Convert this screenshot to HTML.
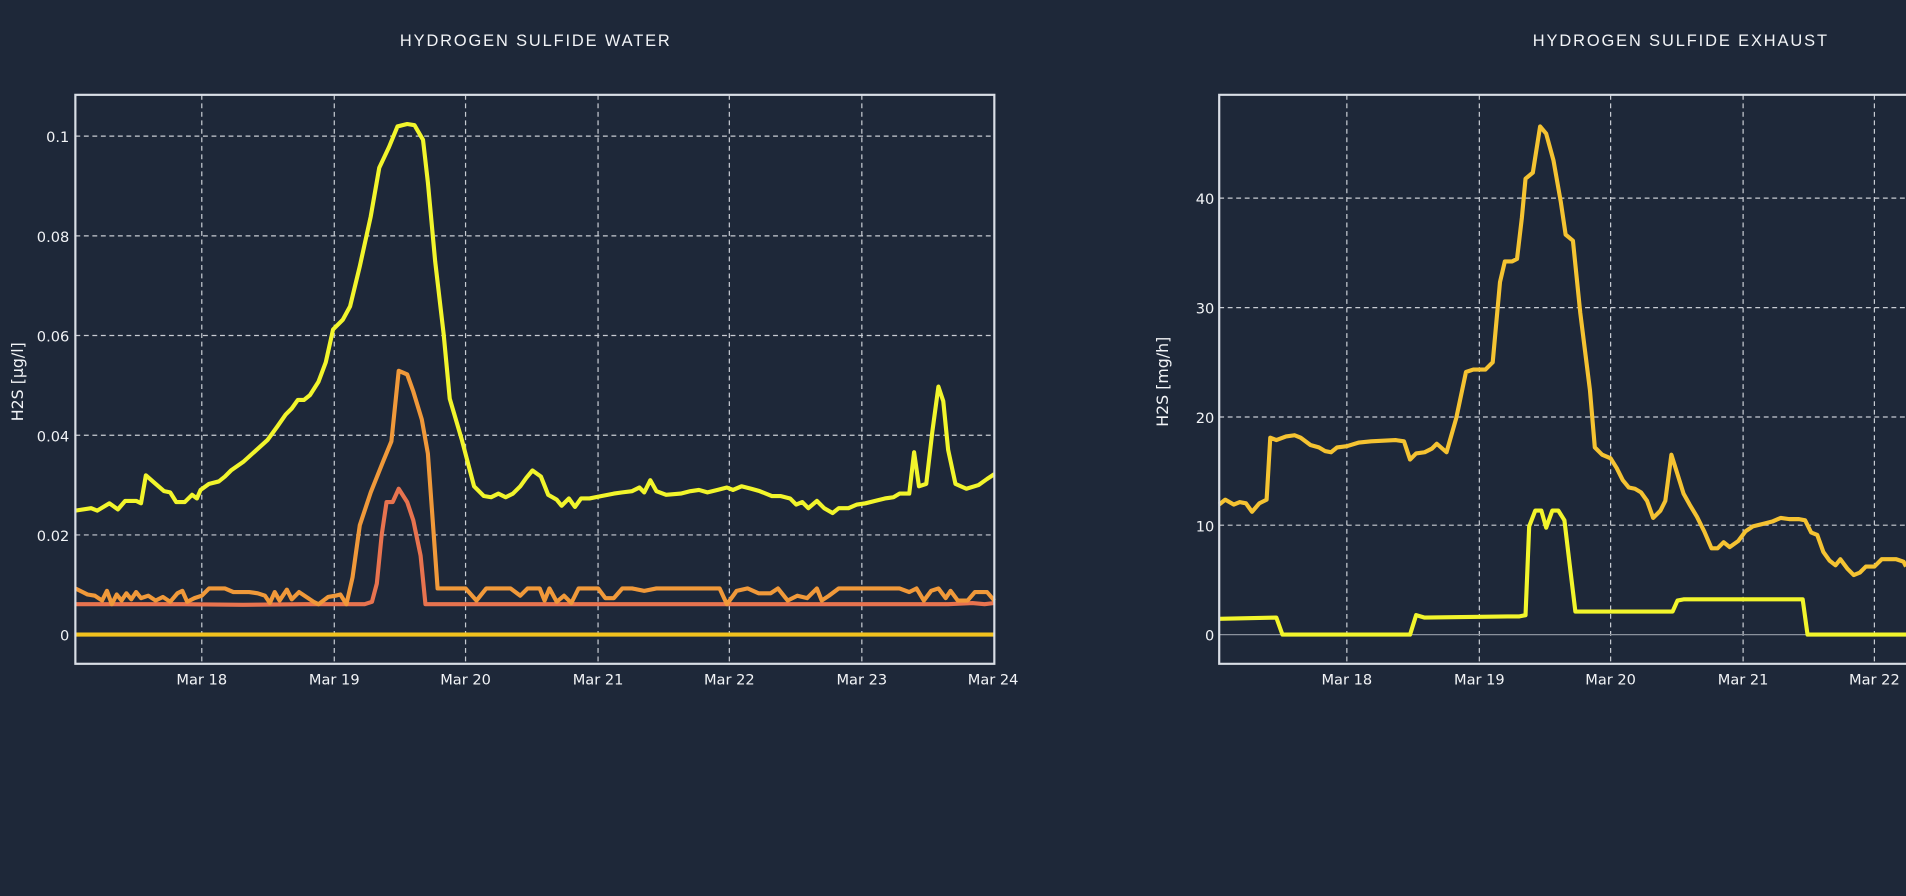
<!DOCTYPE html>
<html><head><meta charset="utf-8"><style>
html,body{margin:0;padding:0;background:#1e2839;}
svg{display:block}
text{font-family:"DejaVu Sans","Liberation Sans",sans-serif;fill:#f2f4f7;}
</style></head><body>
<svg width="1906" height="896" viewBox="0 0 1568 737" preserveAspectRatio="none" xmlns="http://www.w3.org/2000/svg">
<rect width="1568" height="737" fill="#1e2839"/>
<!-- LEFT CHART -->
<text x="440" y="38" font-size="13.5" text-anchor="middle" style="font-family:'Liberation Sans',sans-serif" textLength="222">HYDROGEN SULFIDE WATER</text>
<g stroke="#e6e9ee" stroke-width="1" stroke-dasharray="4,3" opacity="0.85">
<line x1="166" y1="78" x2="166" y2="546"/><line x1="275" y1="78" x2="275" y2="546"/>
<line x1="383" y1="78" x2="383" y2="546"/><line x1="492" y1="78" x2="492" y2="546"/>
<line x1="600" y1="78" x2="600" y2="546"/><line x1="709" y1="78" x2="709" y2="546"/>
<line x1="62" y1="112" x2="818" y2="112"/><line x1="62" y1="194" x2="818" y2="194"/>
<line x1="62" y1="276" x2="818" y2="276"/><line x1="62" y1="358" x2="818" y2="358"/>
<line x1="62" y1="440" x2="818" y2="440"/>
</g>
<g font-size="12" text-anchor="end">
<text x="57" y="117">0.1</text><text x="57" y="199">0.08</text><text x="57" y="281">0.06</text>
<text x="57" y="363">0.04</text><text x="57" y="445">0.02</text><text x="57" y="527">0</text>
</g>
<g font-size="12" text-anchor="middle">
<text x="166" y="563">Mar 18</text><text x="275" y="563">Mar 19</text><text x="383" y="563">Mar 20</text>
<text x="492" y="563">Mar 21</text><text x="600" y="563">Mar 22</text><text x="709" y="563">Mar 23</text>
<text x="817" y="563">Mar 24</text>
</g>
<text transform="translate(19,314) rotate(-90)" font-size="13" text-anchor="middle">H2S [µg/l]</text>
<g fill="none" stroke-width="3.4" stroke-linejoin="round">
<line x1="62" y1="522" x2="818" y2="522" stroke="#f2c21e"/>
<polyline stroke="#e8734f" points="62,497 150,497 200,497.5 250,497 300,497 306,495 310,480 314,440 318,413 323,413 328,402 335,413 340,428 346,457 350,497 400,497 500,497 600,497 700,497 780,497 800,496 810,497 818,496"/>
<polyline stroke="#f0993a" points="62,484 68,487 72,489 78,490 84,494 88,486 92,497 96,489 100,494 104,488 108,493 112,487 116,492 122,490 128,494 134,491 140,495 146,488 150,486 154,495 160,492 166,490 172,484 178,484 185,484 192,487 198,487 205,487 212,488 218,490 222,496 226,487 230,494 236,485 240,493 246,487 252,491 258,495 262,497 270,491 276,490 280,489 285,497 290,475 296,432 305,405 315,380 322,363 328,305 335,308 340,322 347,345 352,373 360,484 383,484 392,494 400,484 420,484 428,490 434,484 444,484 448,494 452,484 458,495 464,490 470,496 476,484 492,484 498,492 505,492 512,484 520,484 530,486 540,484 580,484 592,484 598,497 606,486 615,484 624,488 634,488 640,484 648,494 656,490 664,492 672,484 676,494 682,490 690,484 700,484 740,484 748,487 754,484 760,494 766,486 772,484 778,492 782,486 788,494 796,494 802,487 812,487 818,494"/>
<polyline stroke="#f2f52c" points="62,420 75,418 80,420 90,414 97,419 103,412 112,412 116,414 120,391 128,398 135,404 140,405 145,413 152,413 158,407 162,410 165,403 172,398 180,396 185,392 190,387 200,380 210,371 220,362 228,351 235,341 240,336 245,329 250,329 255,325 262,314 268,298 274,271 282,263 288,252 296,219 305,178 312,138 320,121 327,104 335,102 341,103 348,115 352,150 358,215 365,275 370,328 380,362 390,400 398,408 404,409 410,406 416,409 422,406 428,400 433,393 438,387 445,392 451,407 458,411 462,416 468,410 473,417 478,410 485,410 495,408 505,406 512,405 520,404 526,401 530,405 535,395 540,404 548,407 560,406 568,404 575,403 582,405 590,403 598,401 603,403 610,400 618,402 625,404 635,408 642,408 650,410 655,415 660,413 665,418 672,412 678,418 685,422 690,418 698,418 705,415 712,414 720,412 728,410 735,409 740,406 748,406 752,372 756,400 762,398 767,355 772,318 776,330 780,370 786,398 795,402 805,399 812,394 818,390"/>
</g>
<rect x="62" y="78" width="756" height="468" fill="none" stroke="#d9dee6" stroke-width="1.8"/>

<!-- RIGHT CHART -->
<text x="1382" y="38" font-size="13.5" text-anchor="middle" style="font-family:'Liberation Sans',sans-serif" textLength="242">HYDROGEN SULFIDE EXHAUST</text>
<g stroke="#e6e9ee" stroke-width="1" stroke-dasharray="4,3" opacity="0.85">
<line x1="1108" y1="78" x2="1108" y2="546"/><line x1="1217" y1="78" x2="1217" y2="546"/>
<line x1="1325" y1="78" x2="1325" y2="546"/><line x1="1434" y1="78" x2="1434" y2="546"/>
<line x1="1542" y1="78" x2="1542" y2="546"/>
<line x1="1003" y1="163" x2="1568" y2="163"/><line x1="1003" y1="253" x2="1568" y2="253"/>
<line x1="1003" y1="343" x2="1568" y2="343"/><line x1="1003" y1="432" x2="1568" y2="432"/>
</g>
<line x1="1003" y1="522" x2="1568" y2="522" stroke="#8a919c" stroke-width="1"/>
<g font-size="12" text-anchor="end">
<text x="999" y="168">40</text><text x="999" y="258">30</text><text x="999" y="348">20</text>
<text x="999" y="437">10</text><text x="999" y="527">0</text>
</g>
<g font-size="12" text-anchor="middle">
<text x="1108" y="563">Mar 18</text><text x="1217" y="563">Mar 19</text><text x="1325" y="563">Mar 20</text>
<text x="1434" y="563">Mar 21</text><text x="1542" y="563">Mar 22</text>
</g>
<text transform="translate(961,314) rotate(-90)" font-size="13" text-anchor="middle">H2S [mg/h]</text>
<g fill="none" stroke-width="3.4" stroke-linejoin="round">
<polyline stroke="#f5c332" points="1003,415 1008,411 1015,415 1020,413 1025,414 1030,421 1036,414 1042,411 1045,360 1050,362 1058,359 1065,358 1070,360 1078,366 1085,368 1090,371 1095,372 1100,368 1108,367 1118,364 1128,363 1148,362 1155,363 1160,378 1165,373 1172,372 1178,369 1182,365 1190,372 1198,344 1206,306 1212,304 1222,304 1226,300 1228,298 1234,232 1238,215 1244,215 1248,213 1252,179 1255,147 1261,142 1267,104 1272,110 1278,132 1284,166 1288,193 1294,198 1300,257 1308,321 1312,368 1318,374 1325,377 1330,385 1335,395 1340,401 1345,402 1350,405 1355,412 1360,426 1366,420 1370,412 1375,374 1380,390 1385,406 1390,415 1396,425 1402,437 1408,451 1413,451 1418,446 1423,450 1430,445 1436,437 1442,433 1450,431 1458,429 1465,426 1472,427 1480,427 1485,428 1490,438 1495,440 1500,454 1505,461 1510,465 1514,460 1520,468 1525,473 1530,471 1535,466 1542,466 1548,460 1560,460 1566,462 1568,466"/>
<polyline stroke="#f2f52c" points="1003,509 1050,508 1055,522 1160,522 1165,506 1172,508 1240,507 1250,507 1255,506 1258,433 1263,420 1268,420 1272,434 1277,420 1282,420 1287,428 1292,470 1296,503 1365,503 1376,503 1380,494 1385,493 1483,493 1487,522 1568,522"/>
</g>
<polyline points="1568,78 1003,78 1003,546 1568,546" fill="none" stroke="#d9dee6" stroke-width="1.8"/>
</svg>
</body></html>
